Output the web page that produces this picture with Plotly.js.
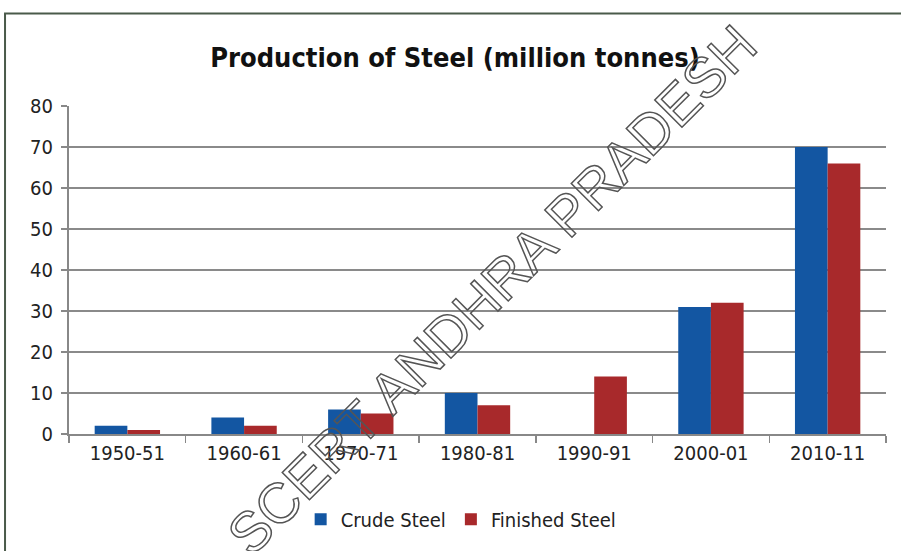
<!DOCTYPE html>
<html><head><meta charset="utf-8">
<script src="https://cdn.plot.ly/plotly-3.0.1.min.js"></script>
<style>body{margin:0;background:#fff}#c{width:901px;height:551px}</style>
</head><body><div id="c"></div>
<script>
const categories = ["1950-51","1960-61","1970-71","1980-81","1990-91","2000-01","2010-11"];
const crudeSteel = [2, 4, 6, 10, null, 31, 70];
const finishedSteel = [1, 2, 5, 7, 14, 32, 66];
const yTicks = [0,10,20,30,40,50,60,70,80];

const F = "'Liberation Sans Narrow', 'DejaVu Sans Condensed', Arial, sans-serif";
const traces = [
  {type:'bar', name:'Crude Steel', x:categories, y:crudeSteel, marker:{color:'#1356a2'}},
  {type:'bar', name:'Finished Steel', x:categories, y:finishedSteel, marker:{color:'#a8292b'}}
];
const layout = {
  width:901, height:551,
  margin:{l:69, r:15, t:106, b:115},
  paper_bgcolor:'#fff', plot_bgcolor:'#fff',
  barmode:'group', bargap:0.44, bargroupgap:0,
  showlegend:true,
  title:{text:'<b>Production of Steel (million tonnes)</b>', x:0.505, xanchor:'center', y:0.895, yanchor:'middle',
         font:{family:F, size:27, color:'#111'}},
  xaxis:{type:'category', showline:true, linecolor:'#888', linewidth:2, ticks:'outside', tickson:'boundaries',
         ticklen:7, tickcolor:'#888', tickwidth:1.5, showgrid:false, zeroline:false,
         tickfont:{family:F, size:20, color:'#222'}},
  yaxis:{range:[0,80], tickvals:yTicks, showline:true, linecolor:'#888', linewidth:2, ticks:'outside', ticklen:6,
         tickcolor:'#888', tickwidth:1.5, showgrid:true, gridcolor:'#8a8a8a', gridwidth:2, zeroline:false,
         tickfont:{family:F, size:20, color:'#222'}, ticklabelstandoff:4},
  legend:{orientation:'h', x:0.48, xanchor:'center', y:-0.26, yanchor:'middle',
          font:{family:F, size:20, color:'#222'}, itemwidth:30, tracegroupgap:0},
  shapes:[{type:'rect', xref:'paper', yref:'paper', x0:-0.0783, x1:1.03, y0:-0.4, y1:1.2818,
           line:{color:'#4a5a4a', width:2}, fillcolor:'rgba(0,0,0,0)', layer:'below'}],
  annotations:[{text:'SCERT ANDHRA PRADESH', xref:'paper', yref:'paper', x:0.518, y:0.44, showarrow:false,
                textangle:-45, font:{family:'Liberation Sans, Arial, sans-serif', size:56, color:'#666'}}]
};
Plotly.newPlot('c', traces, layout, {displayModeBar:false, staticPlot:true}).then(function(){
  document.querySelectorAll('.annotation-text').forEach(function(t){
    t.style.fill='none'; t.style.stroke='#555'; t.style.strokeWidth='1.5px';
  });
});
</script></body></html>
